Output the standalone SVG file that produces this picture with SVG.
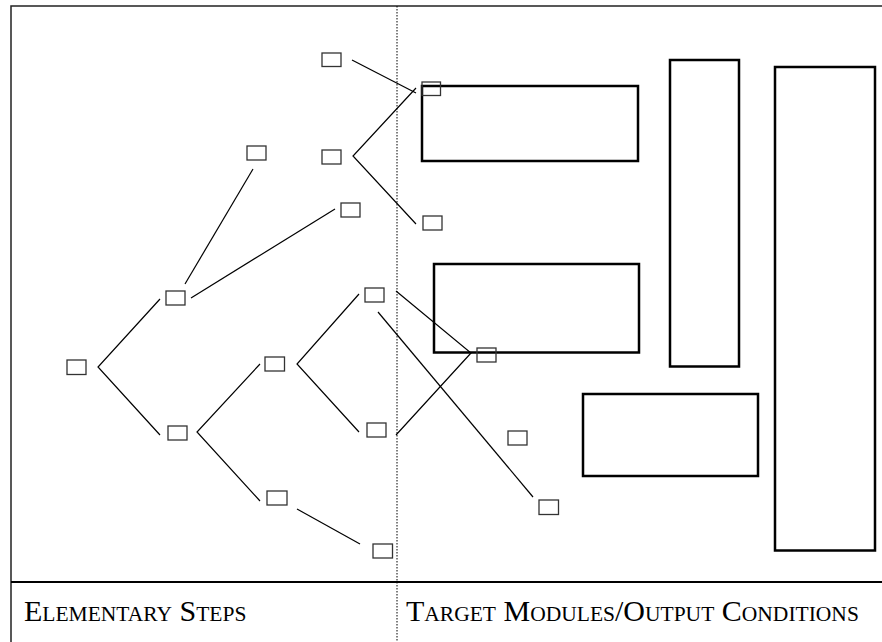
<svg xmlns="http://www.w3.org/2000/svg" width="882" height="642" viewBox="0 0 882 642">
<style>
.frame{fill:none;stroke:#222;stroke-width:1.5}
.sep{stroke:#000;stroke-width:2}
.dot{stroke:#000;stroke-width:1;stroke-dasharray:1.5 1.5}
.big{fill:none;stroke:#000;stroke-width:2.5}
.sm{fill:none;stroke:#333;stroke-width:1.3}
.ln{fill:none;stroke:#000;stroke-width:1.2}
.lbl{font-family:"Liberation Serif","Times New Roman",serif;font-size:30px;fill:#000}
.sc{font-size:21.5px}
</style>
<rect width="882" height="642" fill="#fff"/>
<g id="frame">
<path class="frame" d="M11,642 V6 H882"/>
<line class="sep" x1="11" y1="582" x2="882" y2="582"/>
<line class="dot" x1="397" y1="6" x2="397" y2="642"/>
</g>
<g id="modules">
<rect id="modA" class="big" x="422" y="86" width="216" height="75"/>
<rect id="modB" class="big" x="434" y="264" width="205" height="88.5"/>
<rect id="modC" class="big" x="670" y="60" width="69" height="306.5"/>
<rect id="modD" class="big" x="775" y="67" width="100" height="483.5"/>
<rect id="modE" class="big" x="583" y="394" width="175" height="82"/>
</g>
<g id="connectors">
<polyline class="ln" points="352,60 416,93"/>
<polyline class="ln" points="416,88 353,156 416,224"/>
<polyline class="ln" points="185,284 253,169"/>
<polyline class="ln" points="191,298 335,209"/>
<polyline class="ln" points="160,299 98,367 160,435"/>
<polyline class="ln" points="260,364 197,432 260,501"/>
<polyline class="ln" points="359,294 297,364 359,432"/>
<polyline class="ln" points="396,291 471,353 396,435"/>
<polyline class="ln" points="378,312 533,497"/>
<polyline class="ln" points="297,509 360,544"/>
</g>
<g id="steps">
<rect id="s1" class="sm" x="322" y="53" width="19" height="13.5"/>
<rect id="s2" class="sm" x="422" y="82" width="18.5" height="13.5"/>
<rect id="s3" class="sm" x="247" y="146" width="19" height="14"/>
<rect id="s4" class="sm" x="322" y="150" width="19" height="14"/>
<rect id="s5" class="sm" x="341" y="203" width="19" height="14"/>
<rect id="s6" class="sm" x="423" y="216" width="19" height="14"/>
<rect id="s7" class="sm" x="166" y="291" width="19" height="14"/>
<rect id="s8" class="sm" x="365" y="288" width="19" height="14"/>
<rect id="s9" class="sm" x="477" y="348" width="19" height="14"/>
<rect id="s10" class="sm" x="67" y="360" width="19" height="14.5"/>
<rect id="s11" class="sm" x="265" y="357" width="19.5" height="14"/>
<rect id="s12" class="sm" x="168" y="426" width="19" height="14"/>
<rect id="s13" class="sm" x="367" y="423" width="19" height="14"/>
<rect id="s14" class="sm" x="508" y="431" width="19" height="14"/>
<rect id="s15" class="sm" x="267" y="491" width="20" height="14"/>
<rect id="s16" class="sm" x="539" y="500" width="19.5" height="14.5"/>
<rect id="s17" class="sm" x="373" y="544" width="19.5" height="14"/>
</g>
<g id="labels">
<text class="lbl" x="24" y="621">E<tspan class="sc">LEMENTARY</tspan> S<tspan class="sc">TEPS</tspan></text>
<text class="lbl" x="406" y="621">T<tspan class="sc">ARGET</tspan> M<tspan class="sc">ODULES</tspan>/O<tspan class="sc">UTPUT</tspan> C<tspan class="sc">ONDITIONS</tspan></text>
</g>
</svg>
